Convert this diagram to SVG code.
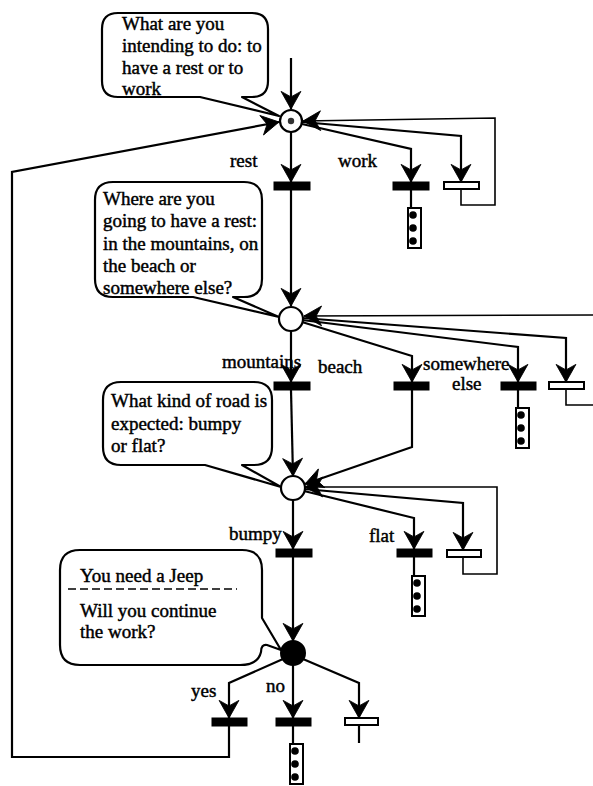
<svg xmlns="http://www.w3.org/2000/svg" xmlns:xlink="http://www.w3.org/1999/xlink" width="593" height="786" viewBox="0 0 593 786">
<style>
  text { font-family: "Liberation Serif", "Times New Roman", serif; font-size: 19px; fill: #000; stroke: #000; stroke-width: 0.45; }
  .bubble { fill: #fff; stroke: #000; stroke-width: 2.2; stroke-linejoin: round; }
  .bar { fill: #000; stroke: #000; stroke-width: 1; }
  .hbar { fill: #fff; stroke: #000; stroke-width: 2; }
  .place { fill: #fff; stroke: #000; stroke-width: 2.2; }
  .conn { fill: none; stroke: #000; stroke-width: 2.2; }
  .thin { fill: none; stroke: #000; stroke-width: 1.6; }
  .arr { marker-end: url(#ah); }
</style>
<defs>
  <marker id="ah" markerUnits="userSpaceOnUse" orient="auto" refX="0" refY="0" markerWidth="22" markerHeight="22" viewBox="-18 -10 19 20" overflow="visible">
    <path d="M0,0 L-16,-9 L-11,0 L-16,9 Z" fill="#000" stroke="#000" stroke-width="0.8" stroke-linejoin="miter"/>
  </marker>
  <g id="term">
    <rect x="0" y="0" width="13" height="40" fill="#fff" stroke="#000" stroke-width="2"/>
    <circle cx="5" cy="7" r="3.8" fill="#000"/>
    <circle cx="5" cy="20" r="3.8" fill="#000"/>
    <circle cx="5" cy="33" r="3.8" fill="#000"/>
  </g>
</defs>
<rect width="593" height="786" fill="#fff"/>

<g id="connectors">
  <path class="conn arr" d="M291,58 V109"/>
  <path class="conn arr" d="M291,132 V182"/>
  <path class="conn arr" d="M302,124 L411,149 V182"/>
  <path class="conn arr" d="M302,122 L461,136 V182"/>
  <path class="thin arr" d="M461,189 V205 H495 V118 L303,121"/>
  <path class="conn" d="M411,190 V208"/>
  <path class="conn arr" d="M291,190 V306"/>
  <path class="conn arr" d="M291,331 V382"/>
  <path class="conn arr" d="M302,322 L412,356 V382"/>
  <path class="conn arr" d="M302,320 L518,347 V382"/>
  <path class="conn arr" d="M302,318 L566,338 V382"/>
  <path class="thin" d="M566,389 V405 H596"/>
  <path class="thin arr" d="M596,315 L304,316"/>
  <path class="conn" d="M518,390 V408"/>
  <path class="conn arr" d="M291,390 L293,476"/>
  <path class="conn arr" d="M412,390 V447 L305,484"/>
  <path class="conn arr" d="M304,491 L414,518 V549"/>
  <path class="conn arr" d="M304,489 L463,503 V550"/>
  <path class="thin arr" d="M463,557 V574 H497 V487 L305,487"/>
  <path class="conn" d="M414,557 V576"/>
  <path class="conn arr" d="M293,500 V549"/>
  <path class="conn arr" d="M293,557 V641"/>
  <path class="conn arr" d="M283,659 L229,683 V718"/>
  <path class="conn arr" d="M293,665 V718"/>
  <path class="conn arr" d="M303,659 L359,683 V718"/>
  <path class="conn" d="M359,725 V743"/>
  <path class="conn" d="M293,726 V744"/>
  <path class="conn arr" d="M229,726 V757 H12 V172 L279,122"/>
</g>

<g id="labels">
  <text x="230" y="167">rest</text>
  <text x="338" y="167">work</text>
  <text x="222" y="368">mountains</text>
  <text x="318" y="373">beach</text>
  <text x="423" y="370">somewhere</text>
  <text x="452" y="390">else</text>
  <text x="229" y="540">bumpy</text>
  <text x="369" y="542">flat</text>
  <text x="191" y="697">yes</text>
  <text x="266" y="692">no</text>
</g>

<g id="bubble1">
  <path class="bubble" d="M118,13 H252 Q268,13 268,29 V81 Q268,97 252,97 H242 L279,116 L200,97 H118 Q102,97 102,81 V29 Q102,13 118,13 Z"/>
  <text x="122" y="30">What are you</text>
  <text x="122" y="52">intending to do: to</text>
  <text x="122" y="74">have a rest or to</text>
  <text x="122" y="95">work</text>
</g>

<g id="bubble2">
  <path class="bubble" d="M113,182 H244 Q262,182 262,200 V279 Q262,297 244,297 H233 L279,317 L193,297 H113 Q95,297 95,279 V200 Q95,182 113,182 Z"/>
  <text x="103" y="205">Where are you</text>
  <text x="103" y="227">going to have a rest:</text>
  <text x="103" y="249.5">in the mountains, on</text>
  <text x="103" y="272">the beach or</text>
  <text x="103" y="294">somewhere else?</text>
</g>

<g id="bubble3">
  <path class="bubble" d="M121,382 H254 Q272,382 272,400 V447 Q272,465 254,465 H242 L281,487 L205,465 H121 Q103,465 103,447 V400 Q103,382 121,382 Z"/>
  <text x="111" y="407">What kind of road is</text>
  <text x="111" y="430">expected: bumpy</text>
  <text x="111" y="452">or flat?</text>
</g>

<g id="bubble4">
  <path class="bubble" d="M80,550 H242 Q262,550 262,570 V618 L281,650 L267,645 Q261,644 261,652 Q258,665 240,665 H80 Q60,665 60,645 V570 Q60,550 80,550 Z"/>
  <text x="80" y="582">You need a Jeep</text>
  <line x1="68" y1="589" x2="237" y2="589" stroke="#000" stroke-width="1.5" stroke-dasharray="8 4"/>
  <text x="80" y="617">Will you continue</text>
  <text x="80" y="638">the work?</text>
</g>

<g id="place1">
  <circle class="place" cx="291" cy="121" r="11"/>
  <circle cx="291" cy="121" r="3.2" fill="#333"/>
</g>
<g id="place2"><circle class="place" cx="291" cy="319" r="12"/></g>
<g id="place3"><circle class="place" cx="293" cy="488" r="12"/></g>
<g id="place4"><circle cx="293" cy="653" r="12" fill="#000" stroke="#000" stroke-width="2"/></g>

<g id="t-rest"><rect class="bar" x="274" y="182" width="36" height="8"/></g>
<g id="t-work"><rect class="bar" x="393" y="182" width="36" height="8"/></g>
<g id="t-wait1"><rect class="hbar" x="444" y="182" width="35" height="7"/></g>
<g id="t-mountains"><rect class="bar" x="274" y="382" width="36" height="8"/></g>
<g id="t-beach"><rect class="bar" x="394" y="382" width="35" height="8"/></g>
<g id="t-somewhere"><rect class="bar" x="501" y="382" width="35" height="8"/></g>
<g id="t-wait2"><rect class="hbar" x="549" y="382" width="35" height="7"/></g>
<g id="t-bumpy"><rect class="bar" x="276" y="549" width="36" height="8"/></g>
<g id="t-flat"><rect class="bar" x="397" y="549" width="35" height="8"/></g>
<g id="t-wait3"><rect class="hbar" x="447" y="550" width="34" height="7"/></g>
<g id="t-yes"><rect class="bar" x="212" y="718" width="35" height="8"/></g>
<g id="t-no"><rect class="bar" x="276" y="718" width="35" height="8"/></g>
<g id="t-wait4"><rect class="hbar" x="345" y="718" width="33" height="7"/></g>

<g id="end1"><use xlink:href="#term" x="408" y="208"/></g>
<g id="end2"><use xlink:href="#term" x="516" y="408"/></g>
<g id="end3"><use xlink:href="#term" x="412" y="576"/></g>
<g id="end4"><use xlink:href="#term" x="290" y="744"/></g>
</svg>
